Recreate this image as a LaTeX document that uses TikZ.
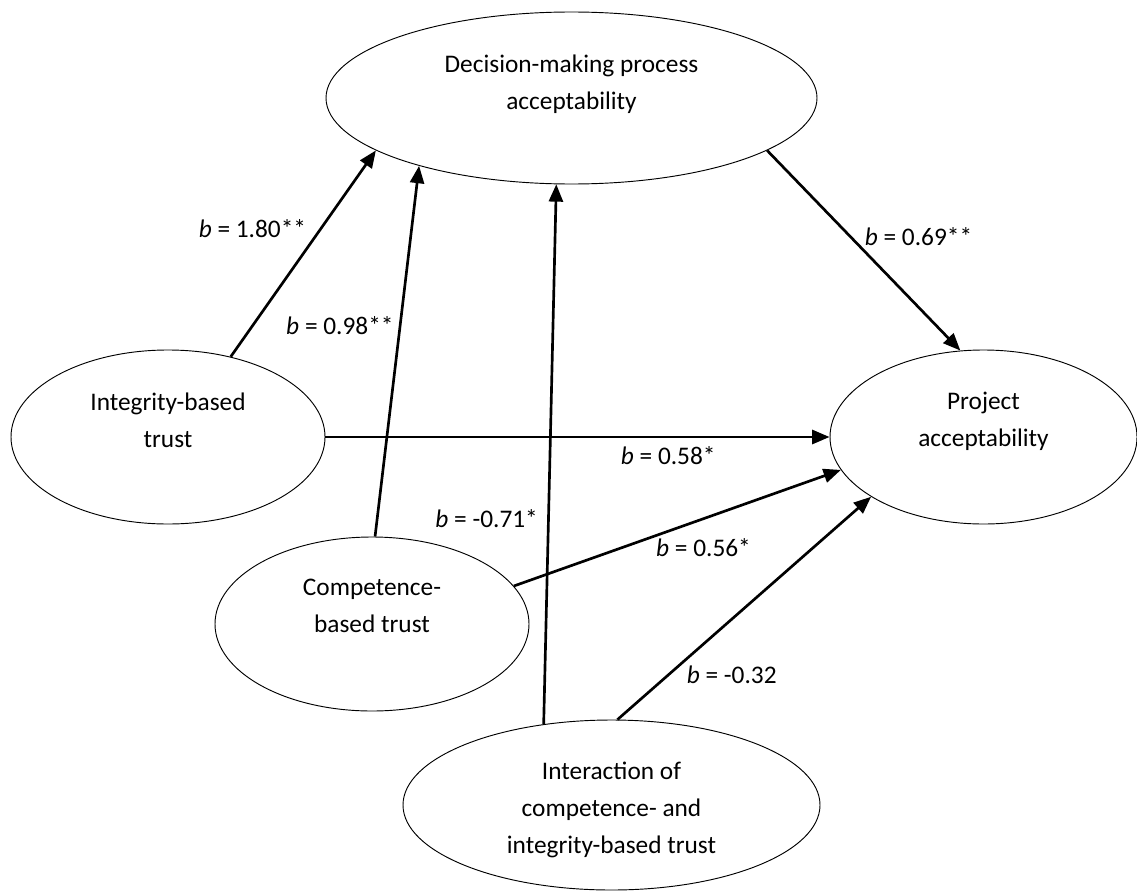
\documentclass[tikz,border=0pt]{standalone}
\usepackage{fontspec}
\setmainfont{Carlito}
\usetikzlibrary{shapes.geometric, arrows.meta}
\usetikzlibrary{positioning}
\tikzstyle{construct} = [ellipse, draw=black, line width=0.7pt]
\tikzstyle{caption} = [align=center, inner sep=0pt]
\tikzstyle{coef} = [inner sep=0pt]
\tikzstyle{arrow} = [line width=2pt, -{Triangle[length=13pt, width=10.5pt]}]

\begin{document}
\begin{tikzpicture}[x=0.75pt, y=-0.75pt, font=\fontsize{19}{27.75}\selectfont]
	\useasboundingbox (0,0) rectangle (1137,892);

	\node (dec) [construct, minimum width=368.25pt, minimum height=129pt] at (571.5,98) {};
	\node (proj) [construct, minimum width=230.25pt, minimum height=130.5pt] at (983.5,437) {};
	\node (integ) [construct, minimum width=235.5pt, minimum height=130.5pt] at (168,437) {};
	\node (comp) [construct, minimum width=235.5pt, minimum height=130.5pt] at (372,624) {};
	\node (inter) [construct, minimum width=312.75pt, minimum height=127.5pt] at (611.5,805) {};

	\node (dec_text) [caption, below=32pt of dec.north] {Decision-making process\\acceptability};
	\node (proj_text) [caption, below=32pt of proj.north] {Project\\acceptability};
	\node (integ_text) [caption, below=32pt of integ.north] {Integrity-based\\trust};
	\node (comp_text) [caption, below=32pt of comp.north] {Competence-\\based trust};
	\node (inter_text) [caption, below=32pt of inter.north] {Interaction of\\competence- and\\integrity-based trust};

	\draw [arrow] (integ.52) -- node[coef, pos=0.62, left=10pt] {\textit{b} = 1.80**} (dec.195);
	\draw [arrow] (comp.88) -- node[coef, pos=0.57, left=4pt] {\textit{b} = 0.98**} (dec.204);
	\draw [arrow] (inter.130) -- node[coef, pos=0.38, left=7pt] {\textit{b} = -0.71*} (dec.260);
	\draw [arrow] (dec.345) -- node[coef, pos=0.43, right=10pt] {\textit{b} = 0.69**} (proj.105);

	\draw [arrow] (integ) -- node[coef, pos=0.68, below=6pt] {\textit{b} = 0.58*} (proj);
	\draw [arrow] (comp.15) -- node[coef, pos=0.58, below=14pt] {\textit{b} = 0.56*} (proj.193);
	\draw [arrow] (inter.86) -- node[coef, pos=0.2, right=13pt] {\textit{b} = -0.32} (proj.208);

\end{tikzpicture}
\end{document}
